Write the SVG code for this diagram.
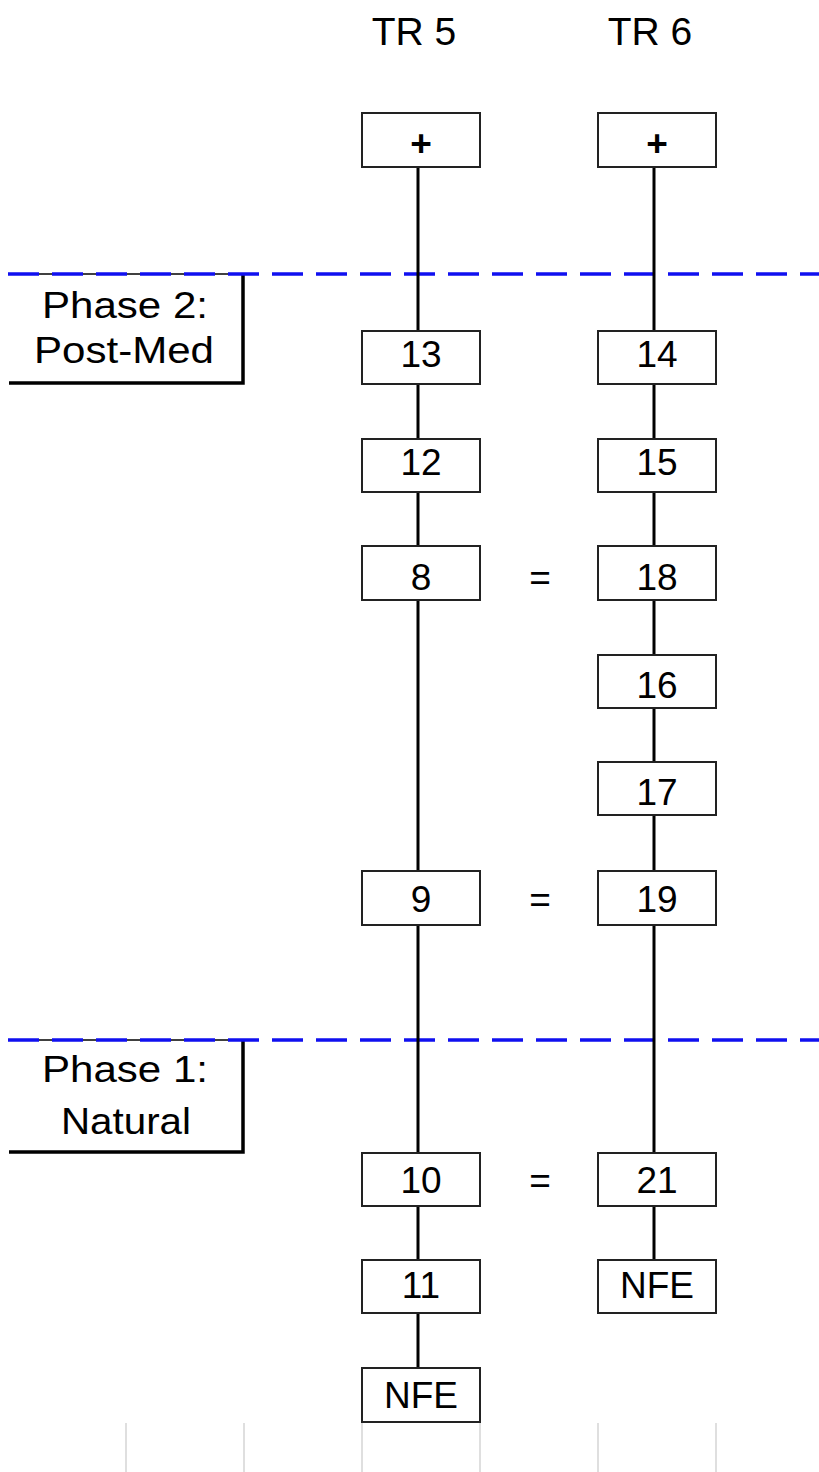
<svg xmlns="http://www.w3.org/2000/svg" width="819" height="1472" viewBox="0 0 819 1472">
<style>
.bg{fill:#ffffff}
.grid{stroke:#d4d4d4;stroke-width:1.5}
.box{fill:#ffffff;stroke:#222;stroke-width:2}
.t{font-family:"Liberation Sans",Arial,sans-serif;font-size:37px;fill:#000;text-anchor:middle}
.plus{font-family:"Liberation Sans",Arial,sans-serif;font-size:37px;font-weight:bold;fill:#000;text-anchor:middle}
.h{font-family:"Liberation Sans",Arial,sans-serif;font-size:39px;fill:#000;text-anchor:middle}
.dash{stroke:#1010f0;stroke-width:3.5;stroke-dasharray:31 13;fill:none}
.edge{stroke:#000;stroke-width:3;fill:none}
.pbox{fill:none;stroke:#000;stroke-width:1.5}
.pshadow{fill:none;stroke:#000;stroke-width:3.5}
</style>
<rect class="bg" x="0" y="0" width="819" height="1472"/>
<g id="grid">
<line class="grid" x1="126" y1="1423" x2="126" y2="1472"/>
<line class="grid" x1="244" y1="1423" x2="244" y2="1472"/>
<line class="grid" x1="362" y1="1423" x2="362" y2="1472"/>
<line class="grid" x1="480" y1="1423" x2="480" y2="1472"/>
<line class="grid" x1="598" y1="1423" x2="598" y2="1472"/>
<line class="grid" x1="716" y1="1423" x2="716" y2="1472"/>
</g>
<g id="headers">
<text class="h" x="414" y="45">TR 5</text>
<text class="h" x="650" y="45">TR 6</text>
</g>
<g id="phase2">
<path class="pbox" d="M9,274 H243"/>
<path class="pshadow" d="M243,274 V383 H9"/>
<text class="t" x="125" y="318" textLength="166" lengthAdjust="spacingAndGlyphs">Phase 2:</text>
<text class="t" x="124" y="363" textLength="180" lengthAdjust="spacingAndGlyphs">Post-Med</text>
</g>
<g id="phase1">
<path class="pbox" d="M9,1040 H243"/>
<path class="pshadow" d="M243,1040 V1152 H9"/>
<text class="t" x="125" y="1082" textLength="166" lengthAdjust="spacingAndGlyphs">Phase 1:</text>
<text class="t" x="126" y="1134" textLength="130" lengthAdjust="spacingAndGlyphs">Natural</text>
</g>
<g id="phase-lines">
<line class="dash" x1="8" y1="274" x2="819" y2="274"/>
<line class="dash" x1="8" y1="1040" x2="819" y2="1040"/>
</g>
<g id="connectors">
<line class="edge" x1="418" y1="167" x2="418" y2="1368"/>
<line class="edge" x1="654" y1="167" x2="654" y2="1260"/>
</g>
<g id="tr5-plus"><rect class="box" x="362" y="113" width="118" height="54"/><text class="plus" x="421" y="156">+</text></g>
<g id="tr6-plus"><rect class="box" x="598" y="113" width="118" height="54"/><text class="plus" x="657" y="156">+</text></g>
<g id="n13"><rect class="box" x="362" y="331" width="118" height="53"/><text class="t" x="421" y="367">13</text></g>
<g id="n14"><rect class="box" x="598" y="331" width="118" height="53"/><text class="t" x="657" y="367">14</text></g>
<g id="n12"><rect class="box" x="362" y="439" width="118" height="53"/><text class="t" x="421" y="475">12</text></g>
<g id="n15"><rect class="box" x="598" y="439" width="118" height="53"/><text class="t" x="657" y="475">15</text></g>
<g id="n8"><rect class="box" x="362" y="546" width="118" height="54"/><text class="t" x="421" y="590">8</text></g>
<g id="eq1"><text class="t" x="540" y="590">=</text></g>
<g id="n18"><rect class="box" x="598" y="546" width="118" height="54"/><text class="t" x="657" y="590">18</text></g>
<g id="n16"><rect class="box" x="598" y="655" width="118" height="53"/><text class="t" x="657" y="698">16</text></g>
<g id="n17"><rect class="box" x="598" y="762" width="118" height="53"/><text class="t" x="657" y="805">17</text></g>
<g id="n9"><rect class="box" x="362" y="871" width="118" height="54"/><text class="t" x="421" y="912">9</text></g>
<g id="eq2"><text class="t" x="540" y="912">=</text></g>
<g id="n19"><rect class="box" x="598" y="871" width="118" height="54"/><text class="t" x="657" y="912">19</text></g>
<g id="n10"><rect class="box" x="362" y="1153" width="118" height="53"/><text class="t" x="421" y="1193">10</text></g>
<g id="eq3"><text class="t" x="540" y="1193">=</text></g>
<g id="n21"><rect class="box" x="598" y="1153" width="118" height="53"/><text class="t" x="657" y="1193">21</text></g>
<g id="n11"><rect class="box" x="362" y="1260" width="118" height="53"/><text class="t" x="421" y="1298">11</text></g>
<g id="tr6-nfe"><rect class="box" x="598" y="1260" width="118" height="53"/><text class="t" x="657" y="1298">NFE</text></g>
<g id="tr5-nfe"><rect class="box" x="362" y="1368" width="118" height="54"/><text class="t" x="421" y="1408">NFE</text></g>
</svg>
